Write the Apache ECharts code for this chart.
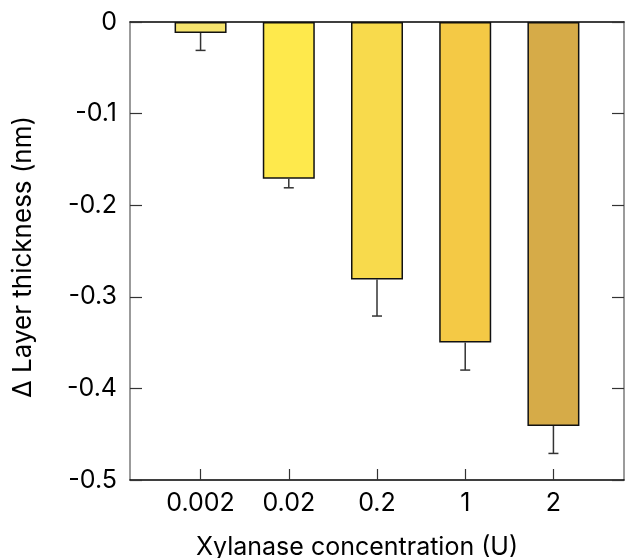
<!DOCTYPE html>
<html>
<head>
<meta charset="utf-8">
<script src="https://cdn.jsdelivr.net/npm/echarts@6/dist/echarts.min.js"></script>
<style>
html,body{margin:0;padding:0;background:#fff;}
#chart{width:625px;height:558px;}
</style>
</head>
<body>
<div id="chart"></div>
<script>
var categories = ['0.002', '0.02', '0.2', '1', '2'];
var values = [-0.012, -0.171, -0.281, -0.350, -0.441];
var errors = [0.019, 0.010, 0.040, 0.030, 0.030];
var barColors = ['#f6e46e', '#fee94c', '#f8da4c', '#f4c945', '#d6ab48'];
var yTicks = [0, -0.1, -0.2, -0.3, -0.4, -0.5];

var FONT = 'Inter';
var FS = 25;
var idx = categories.map(function (c, i) { return i; });

var chart = echarts.init(document.getElementById('chart'), null, {renderer: 'canvas'});
var option = {
  backgroundColor: '#fff',
  animation: false,
  grid: {left: 130, right: 1, top: 22, bottom: 78, containLabel: false, outerBoundsMode: 'none'},
  xAxis: [{
    type: 'value',
    min: -0.8,
    max: 4.8,
    position: 'bottom',
    splitLine: {show: false},
    axisLine: {show: true, onZero: false, lineStyle: {color: '#000', width: 1.5}},
    axisTick: {show: true, inside: true, length: 11, customValues: idx, lineStyle: {color: '#333', width: 1.2}},
    axisLabel: {
      show: true, customValues: idx, margin: 11,
      fontFamily: FONT, fontSize: FS, color: '#000',
      formatter: function (v) { return categories[Math.round(v)]; }
    },
    name: 'Xylanase concentration (U)',
    nameLocation: 'middle',
    nameGap: 55,
    nameTextStyle: {fontFamily: FONT, fontSize: FS, color: '#000', padding: [0, 40, 0, 0]}
  }, {
    type: 'value',
    min: -0.8,
    max: 4.8,
    position: 'top',
    splitLine: {show: false},
    axisLine: {show: true, onZero: false, lineStyle: {color: '#000', width: 1.5}},
    axisTick: {show: false},
    axisLabel: {show: false}
  }],
  yAxis: [{
    type: 'value',
    min: -0.5,
    max: 0,
    interval: 0.1,
    position: 'left',
    splitLine: {show: false},
    axisLine: {show: true, onZero: false, lineStyle: {color: '#7a7a7a', width: 1.5}},
    axisTick: {show: true, inside: true, length: 12, lineStyle: {color: '#333', width: 1.2}},
    axisLabel: {
      show: true, margin: 13, fontFamily: FONT, fontSize: FS, color: '#000',
      customValues: yTicks,
      formatter: function (v) { return String(Math.round(v * 10) / 10); }
    },
    name: 'Δ Layer thickness (nm)',
    nameLocation: 'middle',
    nameGap: 94,
    nameRotate: 90,
    nameTextStyle: {fontFamily: FONT, fontSize: 26, color: '#000', padding: [0, 12, 0, 0]}
  }, {
    type: 'value',
    min: -0.5,
    max: 0,
    interval: 0.1,
    position: 'right',
    splitLine: {show: false},
    axisLine: {show: true, onZero: false, lineStyle: {color: '#7a7a7a', width: 1.5}},
    axisTick: {show: true, inside: true, length: 12, lineStyle: {color: '#333', width: 1.2}},
    axisLabel: {show: false}
  }],
  series: [{
    type: 'bar',
    xAxisIndex: 0,
    yAxisIndex: 0,
    barWidth: 52,
    data: values.map(function (v, i) {
      return {value: [i, v], itemStyle: {color: barColors[i], borderColor: '#111', borderWidth: 1.5}};
    }),
    z: 2
  }, {
    type: 'custom',
    xAxisIndex: 0,
    yAxisIndex: 0,
    data: values.map(function (v, i) { return [i, v, v - errors[i]]; }),
    renderItem: function (params, api) {
      var top = api.coord([api.value(0), api.value(1)]);
      var bot = api.coord([api.value(0), api.value(2)]);
      var hw = 5;
      return {
        type: 'group',
        children: [{
          type: 'line',
          shape: {x1: top[0], y1: top[1], x2: bot[0], y2: bot[1]},
          style: {stroke: '#333', lineWidth: 1.5}
        }, {
          type: 'line',
          shape: {x1: bot[0] - hw, y1: bot[1], x2: bot[0] + hw, y2: bot[1]},
          style: {stroke: '#333', lineWidth: 1.5}
        }]
      };
    },
    z: 3
  }]
};
chart.setOption(option);
</script>
</body>
</html>
